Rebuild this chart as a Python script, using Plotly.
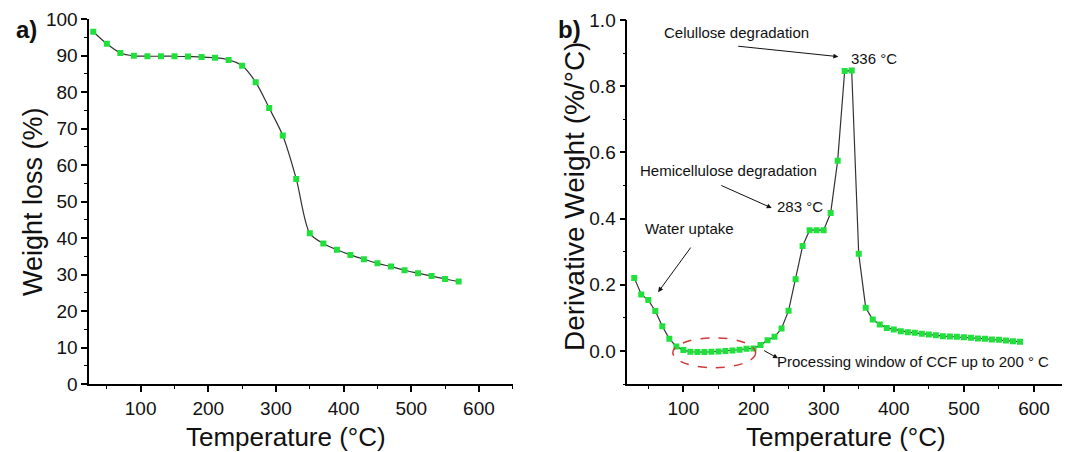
import plotly.graph_objects as go

# ---- data ----
temp_a = [30, 50, 70, 90, 110, 130, 150, 170, 190, 210, 230, 250, 270, 290, 310, 330,
          350, 370, 390, 410, 430, 450, 470, 490, 510, 530, 550, 570]
weight_a = [96.5, 93.2, 90.7, 89.9, 89.8, 89.8, 89.8, 89.7, 89.6, 89.4, 88.8, 87.2,
            82.7, 75.6, 68.1, 56.2, 41.3, 38.5, 36.8, 35.4, 34.2, 33.1, 32.2, 31.2,
            30.4, 29.6, 28.8, 28.1]

temp_b = list(range(30, 590, 10))
deriv_b = [0.221, 0.171, 0.154, 0.121, 0.075, 0.037, 0.014, 0.003, -0.002, -0.003,
           -0.003, -0.002, -0.001, 0.000, 0.002, 0.004, 0.007, 0.008, 0.018, 0.033,
           0.043, 0.068, 0.122, 0.217, 0.317, 0.365, 0.365, 0.365, 0.417, 0.575,
           0.846, 0.847, 0.294, 0.131, 0.095, 0.080, 0.070, 0.065, 0.060, 0.057,
           0.055, 0.052, 0.050, 0.048, 0.045, 0.044, 0.043, 0.042, 0.040, 0.038,
           0.037, 0.035, 0.034, 0.032, 0.030, 0.028]

x_ticks = [100, 200, 300, 400, 500, 600]
y_ticks_a = list(range(0, 101, 10))
y_ticks_b = [0.0, 0.2, 0.4, 0.6, 0.8, 1.0]
y_labels_b = ["0.0", "0.2", "0.4", "0.6", "0.8", "1.0"]

FONT = "Arial, Liberation Sans, sans-serif"
GREEN = "#20e03c"
LINE = "#333333"
W, H = 1075, 452

fig = go.Figure()
fig.add_trace(go.Scatter(x=temp_a, y=weight_a, mode="lines+markers",
                         line=dict(color=LINE, width=1.2, shape="spline", smoothing=0.8),
                         marker=dict(symbol="square", size=6, color=GREEN),
                         xaxis="x", yaxis="y", showlegend=False))
fig.add_trace(go.Scatter(x=temp_b, y=deriv_b, mode="lines+markers",
                         line=dict(color=LINE, width=1.2),
                         marker=dict(symbol="square", size=6, color=GREEN),
                         xaxis="x2", yaxis="y2", showlegend=False))

axis_common = dict(showline=True, linecolor="black", linewidth=1.5, showgrid=False,
                   zeroline=False, ticks="outside", ticklen=6, tickwidth=1.5,
                   tickcolor="black", tickfont=dict(family=FONT, size=19, color="#111"),
                   automargin=False)

minor_x = dict(ticks="outside", ticklen=3, tickwidth=1.2, tickcolor="black", dtick=50, tick0=0)

fig.update_layout(
    width=W, height=H,
    margin=dict(l=0, r=0, t=0, b=0, autoexpand=False),
    paper_bgcolor="white", plot_bgcolor="white",
    xaxis=dict(domain=[0.083, 0.477], range=[24, 650], anchor="y",
               tickvals=x_ticks, minor=minor_x, **axis_common),
    yaxis=dict(domain=[0.15, 0.958], range=[0, 100], anchor="x",
               tickvals=y_ticks_a,
               minor=dict(ticks="outside", ticklen=3, tickwidth=1.2, tickcolor="black", dtick=5, tick0=0),
               **axis_common),
    xaxis2=dict(domain=[0.5835, 0.988], range=[20, 640], anchor="y2",
                tickvals=x_ticks, minor=minor_x, **axis_common),
    yaxis2=dict(domain=[0.15, 0.956], range=[-0.1, 1.0], anchor="x2",
                tickvals=y_ticks_b, ticktext=y_labels_b,
                minor=dict(ticks="outside", ticklen=3, tickwidth=1.2, tickcolor="black", dtick=0.1, tick0=0),
                **axis_common),
)

def paper_text(text, px, py, size, angle=0, bold=False):
    fig.add_annotation(text=f"<b>{text}</b>" if bold else text, xref="paper", yref="paper",
                       x=px / W, y=1 - py / H, xanchor="center", yanchor="middle",
                       textangle=angle, showarrow=False,
                       font=dict(family=FONT, size=size, color="#111"))

# axis titles
paper_text("Temperature (°C)", 286, 437, 26)
paper_text("Temperature (°C)", 846, 437, 26)
paper_text("Weight loss (%)", 33, 202, 27, angle=-90)
paper_text("Derivative Weight (%/°C)", 574, 197, 28, angle=-90)
# panel labels
paper_text("a)", 26, 30, 24, bold=True)
paper_text("b)", 569, 30, 24, bold=True)

af = dict(family=FONT, size=15, color="#111")
# Cellulose
fig.add_annotation(text="Celullose degradation", xref="x2", yref="y2", x=176, y=0.962,
                   showarrow=False, font=af)
fig.add_annotation(text="", xref="x2", yref="y2", x=321, y=0.889, axref="x2", ayref="y2",
                   ax=176, ay=0.921, showarrow=True, arrowhead=2, arrowsize=1, arrowwidth=1,
                   arrowcolor="#111")
fig.add_annotation(text="336 °C", xref="x2", yref="y2", x=336, y=0.884, xanchor="left",
                   showarrow=False, font=af)
# Hemicellulose
fig.add_annotation(text="Hemicellulose degradation", xref="x2", yref="y2", x=165, y=0.545,
                   showarrow=False, font=af)
fig.add_annotation(text="", xref="x2", yref="y2", x=226, y=0.432, axref="x2", ayref="y2",
                   ax=152, ay=0.502, showarrow=True, arrowhead=2, arrowsize=1, arrowwidth=1,
                   arrowcolor="#111")
fig.add_annotation(text="283 °C", xref="x2", yref="y2", x=230, y=0.437, xanchor="left",
                   showarrow=False, font=af)
# Water uptake
fig.add_annotation(text="Water uptake", xref="x2", yref="y2", x=109, y=0.369,
                   showarrow=False, font=af)
fig.add_annotation(text="", xref="x2", yref="y2", x=64, y=0.178, axref="x2", ayref="y2",
                   ax=112, ay=0.317, showarrow=True, arrowhead=2, arrowsize=1, arrowwidth=1,
                   arrowcolor="#111")
# Processing window
fig.add_annotation(text="Processing window of CCF up to 200 ° C", xref="x2", yref="y2",
                   x=230, y=-0.030, xanchor="left", showarrow=False, font=af)
fig.add_annotation(text="", xref="x2", yref="y2", x=235, y=-0.022, axref="x2", ayref="y2",
                   ax=213, ay=0.004, showarrow=True, arrowhead=2, arrowsize=1, arrowwidth=1,
                   arrowcolor="#111")
fig.add_shape(type="circle", xref="x2", yref="y2", x0=85, x1=203, y0=-0.050, y1=0.040,
              line=dict(color="#d03a3a", width=1.5, dash="dash"))

fig.write_html("out.html", config={"displayModeBar": False},
               post_script="document.body.style.margin='0';document.body.style.overflow='hidden';")
